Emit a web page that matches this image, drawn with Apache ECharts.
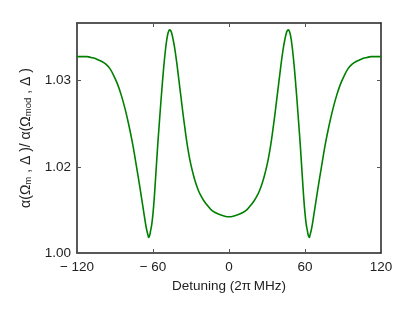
<!DOCTYPE html>
<html>
<head>
<meta charset="utf-8">
<script src="https://cdn.jsdelivr.net/npm/echarts@6/dist/echarts.min.js"></script>
<style>html,body{margin:0;padding:0;background:#fff}#c{width:415px;height:316px}</style>
</head>
<body>
<div id="c"></div>
<script>
var detuning = [-120, -116, -112, -109, -106, -103, -100, -97, -94, -91, -88, -85, -82, -79, -76, -73, -70, -68, -66, -65, -64, -63.5, -63, -62.5, -62, -61, -60, -59, -58, -57, -56, -55, -54, -53, -52, -51, -50, -49, -48, -47, -46, -45, -44, -43, -42, -41, -40, -39, -38, -37, -36, -35, -34, -33, -32, -31, -30, -28, -26, -24, -22, -20, -17, -14, -11, -8, -4, 0,
  4, 8, 11, 14, 17, 20, 22, 24, 26, 28, 30, 31, 32, 33, 34, 35, 36, 37, 38, 39, 40, 41, 42, 43, 44, 45, 46, 47, 48, 49, 50, 51, 52, 53, 54, 55, 56, 57, 58, 59, 60, 61, 62, 62.5, 63, 63.5, 64, 65, 66, 68, 70, 73, 76, 79, 82, 85, 88, 91, 94, 97, 100, 103, 106, 109, 112, 116, 120];
var ratio = [1.0328, 1.0328, 1.0328, 1.0327, 1.0326, 1.0324, 1.0322, 1.0319, 1.0314, 1.0306, 1.0296, 1.0283, 1.0267, 1.0248, 1.0226, 1.0200, 1.0173, 1.0154, 1.0135, 1.0127, 1.0121, 1.0118, 1.0119, 1.0121, 1.0125, 1.0133, 1.0146, 1.0164, 1.0186, 1.0209, 1.0231, 1.0251, 1.0271, 1.0290, 1.0308, 1.0324, 1.0338, 1.0349, 1.0356, 1.0359, 1.0358, 1.0354, 1.0347, 1.0339, 1.0329, 1.0318, 1.0306, 1.0294, 1.0282, 1.0270, 1.0258, 1.0247, 1.0236, 1.0226, 1.0217, 1.0209, 1.0202, 1.0190, 1.0180, 1.0172, 1.0166, 1.0161, 1.0155, 1.0150, 1.0147, 1.0145, 1.0143, 1.0142,
  1.0143, 1.0145, 1.0147, 1.0150, 1.0155, 1.0161, 1.0166, 1.0172, 1.0180, 1.0190, 1.0202, 1.0209, 1.0217, 1.0226, 1.0236, 1.0247, 1.0258, 1.0270, 1.0282, 1.0294, 1.0306, 1.0318, 1.0329, 1.0339, 1.0347, 1.0354, 1.0358, 1.0359, 1.0356, 1.0349, 1.0338, 1.0324, 1.0308, 1.0290, 1.0271, 1.0251, 1.0231, 1.0209, 1.0186, 1.0164, 1.0146, 1.0133, 1.0125, 1.0121, 1.0119, 1.0118, 1.0121, 1.0127, 1.0135, 1.0154, 1.0173, 1.0200, 1.0226, 1.0248, 1.0267, 1.0283, 1.0296, 1.0306, 1.0314, 1.0319, 1.0322, 1.0324, 1.0326, 1.0327, 1.0328, 1.0328, 1.0328];
var xTicks = [-120, -60, 0, 60, 120];
var xTickLabels = ['\u2212 120', '\u2212 60', '0', '60', '120'];
var yTicks = [1.01, 1.02, 1.03];
var yTickLabels = ['1.00', '1.02', '1.03'];

var pts = detuning.map(function (d, i) { return [d, ratio[i]]; });
var FONT = '"Liberation Sans", Arial, sans-serif';
var AX = '#222';
var TK = '#555';

var chart = echarts.init(document.getElementById('c'), null, {renderer: 'canvas'});
chart.setOption({
  animation: false,
  backgroundColor: '#fff',
  grid: {left: 77, right: 34, top: 23, bottom: 63},
  xAxis: [{
    type: 'value', min: -120, max: 120,
    axisLine: {show: true, onZero: false, lineStyle: {color: AX, width: 1.5}},
    axisTick: {show: true, inside: true, length: 4, customValues: xTicks, lineStyle: {color: TK, width: 1}},
    axisLabel: {customValues: xTicks, margin: 7, color: '#222', fontFamily: FONT, fontSize: 13.5,
      formatter: function (v) { return xTickLabels[xTicks.indexOf(v)]; }},
    splitLine: {show: false},
    name: 'Detuning (2\u03c0\u2009MHz)', nameLocation: 'middle', nameGap: 26,
    nameTextStyle: {color: '#222', fontFamily: FONT, fontSize: 13.5}
  }, {
    type: 'value', min: -120, max: 120, position: 'top',
    axisLine: {show: true, onZero: false, lineStyle: {color: AX, width: 1.5}},
    axisTick: {show: true, inside: true, length: 4, customValues: xTicks, lineStyle: {color: TK, width: 1}},
    axisLabel: {show: false}, splitLine: {show: false}
  }],
  yAxis: [{
    type: 'value', min: 1.01, max: 1.0367,
    axisLine: {show: true, onZero: false, lineStyle: {color: AX, width: 1.5}},
    axisTick: {show: true, inside: true, length: 4, customValues: yTicks, lineStyle: {color: TK, width: 1}},
    axisLabel: {customValues: yTicks, margin: 6, color: '#222', fontFamily: FONT, fontSize: 13.5,
      formatter: function (v) { var i = yTicks.findIndex(function (t) { return Math.abs(t - v) < 1e-6; }); return yTickLabels[i]; }},
    splitLine: {show: false},
    name: '\u03b1(\u03a9{s|m} , \u0394 )/ \u03b1(\u03a9{s|mod} , \u0394 )', nameLocation: 'middle', nameGap: 31,
    nameTextStyle: {color: '#222', fontFamily: FONT, fontSize: 14,
      rich: {s: {fontFamily: FONT, fontSize: 9.5, color: '#222', verticalAlign: 'bottom', padding: [6, 0, 0, 0]}}}
  }, {
    type: 'value', min: 1.01, max: 1.0367, position: 'right',
    axisLine: {show: true, onZero: false, lineStyle: {color: AX, width: 1.5}},
    axisTick: {show: true, inside: true, length: 4, customValues: yTicks, lineStyle: {color: TK, width: 1}},
    axisLabel: {show: false}, splitLine: {show: false}
  }],
  series: [{
    type: 'line', data: pts, smooth: 0.3, showSymbol: false,
    lineStyle: {color: '#008000', width: 1.6}, clip: true
  }]
});
</script>
</body>
</html>
